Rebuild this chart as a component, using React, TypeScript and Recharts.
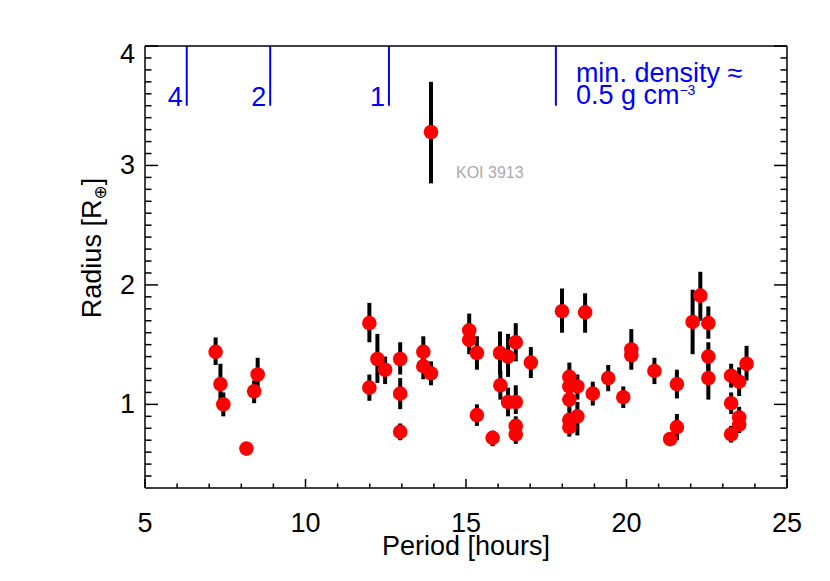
import { ErrorBar, ReferenceDot, ReferenceLine, Scatter, ScatterChart, XAxis, YAxis } from 'recharts'

// planet candidates: orbital period [hours] and radius [R_earth] with 1-sigma range
const period = [
  7.2, 7.35, 7.44, 8.16, 8.4, 8.51, 11.99, 11.99, 12.24, 12.48, 12.95, 12.95, 12.95, 13.67, 13.67, 13.91,
  13.91, 15.1, 15.1, 15.34, 15.34, 15.83, 16.06, 16.07, 16.31, 16.31, 16.55, 16.55, 16.55, 16.55, 17.02,
  17.99, 18.71, 18.22, 18.22, 18.47, 18.22, 18.47, 18.22, 18.22, 18.95, 19.43, 19.9, 20.15, 20.15, 20.87,
  21.36, 21.57, 21.57, 22.06, 22.3, 22.55, 22.55, 22.55, 23.26, 23.26, 23.26, 23.51, 23.51, 23.51, 23.74,
]
const radius = [
  1.44, 1.17, 1.0, 0.63, 1.11, 1.25, 1.68, 1.14, 1.38, 1.29, 1.38, 1.09, 0.77, 1.44, 1.32, 1.26,
  3.28, 1.62, 1.54, 1.43, 0.91, 0.72, 1.43, 1.16, 1.4, 1.02, 1.52, 1.02, 0.82, 0.75, 1.35,
  1.78, 1.77, 1.23, 1.15, 1.15, 1.04, 0.9, 0.87, 0.81, 1.09, 1.22, 1.06, 1.46, 1.41, 1.28,
  0.71, 1.17, 0.81, 1.69, 1.91, 1.68, 1.4, 1.22, 1.24, 1.01, 0.75, 1.19, 0.89, 0.83, 1.34,
]
const radiusLo = [
  1.33, 1.0, 0.9, 0.62, 1.01, 1.12, 1.52, 1.03, 1.18, 1.17, 1.25, 0.96, 0.7, 1.35, 1.21, 1.16,
  2.85, 1.5, 1.42, 1.29, 0.82, 0.65, 1.25, 1.04, 1.23, 0.9, 1.36, 0.92, 0.74, 0.67, 1.22,
  1.6, 1.6, 1.12, 1.05, 1.04, 0.95, 0.74, 0.78, 0.73, 0.99, 1.11, 0.97, 1.34, 1.29, 1.17,
  0.65, 1.05, 0.7, 1.42, 1.7, 1.55, 1.28, 1.04, 1.14, 0.92, 0.68, 1.07, 0.8, 0.76, 1.2,
]
const radiusHi = [
  1.56, 1.34, 1.1, 0.64, 1.2, 1.39, 1.85, 1.25, 1.59, 1.4, 1.52, 1.22, 0.84, 1.57, 1.42, 1.36,
  3.7, 1.76, 1.65, 1.57, 1.0, 0.78, 1.61, 1.28, 1.59, 1.14, 1.68, 1.16, 0.9, 0.82, 1.48,
  1.97, 1.93, 1.35, 1.25, 1.25, 1.13, 1.02, 0.96, 0.89, 1.19, 1.33, 1.15, 1.63, 1.52, 1.39,
  0.76, 1.29, 0.92, 1.96, 2.11, 1.82, 1.52, 1.35, 1.34, 1.1, 0.82, 1.31, 0.98, 0.9, 1.49,
]

// minimum-period lines for a given density [g cm^-3]
const densityPeriods = [6.3, 8.9, 12.6, 17.8]
const densityLabels = ['4', '2', '1', '']
const densityRange = [3.5, 4]

const koiPeriod = 13.91
const koiRadius = 3.28
const koiName = 'KOI 3913'

const xTicks = [5, 6, 7, 8, 9, 10, 11, 12, 13, 14, 15, 16, 17, 18, 19, 20, 21, 22, 23, 24, 25]
const yTicks = [
  0.4, 0.5, 0.6, 0.7, 0.8, 0.9, 1, 1.1, 1.2, 1.3, 1.4, 1.5, 1.6, 1.7, 1.8, 1.9, 2, 2.1, 2.2, 2.3, 2.4,
  2.5, 2.6, 2.7, 2.8, 2.9, 3, 3.1, 3.2, 3.3, 3.4, 3.5, 3.6, 3.7, 3.8, 3.9, 4,
]

const FONT = '"Liberation Sans", Arial, Helvetica, sans-serif'
const FS = 27
const BLUE = '#0000ff'

const data = period.map((p, i) => ({
  period: p,
  radius: radius[i],
  err: [radius[i] - radiusLo[i], radiusHi[i] - radius[i]],
}))

const isMajorX = (v: number) => v % 5 === 0
const isMajorY = (v: number) => Math.abs(v - Math.round(v)) < 1e-6

const XTick = (props: any) => {
  const { x, y, payload, side } = props
  const v = payload.value
  const major = isMajorX(v)
  const len = major ? 9 : 4.5
  const dir = side === 'bottom' ? -1 : 1
  return (
    <g>
      <line x1={x} x2={x} y1={y} y2={y + dir * len} stroke="#000" strokeWidth={1.5} />
      {major && side === 'bottom' && (
        <text x={x} y={y + 44} textAnchor="middle" fontSize={FS} fontFamily={FONT} fill="#000">
          {v}
        </text>
      )}
    </g>
  )
}

const YTick = (props: any) => {
  const { x, y, payload, side } = props
  const v = payload.value
  const major = isMajorY(v)
  const len = major ? 13 : 6.5
  const dir = side === 'left' ? 1 : -1
  // top label sits just below the frame edge, as in the original
  const shift = v >= 4 ? 8 : 0
  return (
    <g>
      <line x1={x} x2={x + dir * len} y1={y} y2={y} stroke="#000" strokeWidth={1.5} />
      {major && side === 'left' && (
        <text x={x - 10} y={y + 9 + shift} textAnchor="end" fontSize={FS} fontFamily={FONT} fill="#000">
          {Math.round(v)}
        </text>
      )}
    </g>
  )
}

const axisLine = { stroke: '#000', strokeWidth: 1.5 }

export default function App() {
  return (
    <div style={{ position: 'absolute', left: 0, top: 0, background: '#fff' }}>
      <ScatterChart width={830} height={581} margin={{ top: 36, right: 33, bottom: 63, left: 85 }}>
        <XAxis
          dataKey="period"
          type="number"
          domain={[5, 25]}
          ticks={xTicks}
          interval={0}
          allowDataOverflow
          height={30}
          tickSize={0}
          tickMargin={0}
          axisLine={axisLine}
          tickLine={false}
          tick={(p: any) => <XTick {...p} side="bottom" />}
          label={{
            content: ({ viewBox }: any) => (
              <text
                x={viewBox.x + viewBox.width / 2}
                y={viewBox.y + 67}
                textAnchor="middle"
                fontSize={FS}
                fontFamily={FONT}
                fill="#000"
              >
                Period [hours]
              </text>
            ),
          }}
        />
        <XAxis
          xAxisId="top"
          orientation="top"
          type="number"
          domain={[5, 25]}
          ticks={xTicks}
          interval={0}
          allowDataOverflow
          height={10}
          tickSize={0}
          tickMargin={0}
          axisLine={axisLine}
          tickLine={false}
          tick={(p: any) => <XTick {...p} side="top" />}
        />
        <YAxis
          dataKey="radius"
          type="number"
          domain={[0.3, 4]}
          ticks={yTicks}
          interval={0}
          allowDataOverflow
          width={60}
          tickSize={0}
          tickMargin={0}
          axisLine={axisLine}
          tickLine={false}
          tick={(p: any) => <YTick {...p} side="left" />}
          label={{
            content: ({ viewBox }: any) => {
              const cx = viewBox.x + 16
              const cy = 248
              return (
                <text
                  x={cx}
                  y={cy}
                  transform={`rotate(-90 ${cx} ${cy})`}
                  textAnchor="middle"
                  fontSize={FS}
                  fontFamily={FONT}
                  fill="#000"
                >
                  Radius [R
                  <tspan fontSize={17} dy={5} fontFamily="DejaVu Sans">
                    ⊕
                  </tspan>
                  <tspan dy={-5}>]</tspan>
                </text>
              )
            },
          }}
        />
        <YAxis
          yAxisId="right"
          orientation="right"
          type="number"
          domain={[0.3, 4]}
          ticks={yTicks}
          interval={0}
          allowDataOverflow
          width={10}
          tickSize={0}
          tickMargin={0}
          axisLine={axisLine}
          tickLine={false}
          tick={(p: any) => <YTick {...p} side="right" />}
        />

        {densityPeriods.map((p, i) => (
          <ReferenceLine
            key={p}
            segment={[
              { x: p, y: densityRange[0] },
              { x: p, y: densityRange[1] },
            ]}
            stroke={BLUE}
            strokeWidth={2}
            label={({ viewBox }: any) =>
              densityLabels[i] ? (
                <text
                  x={viewBox.x - 4}
                  y={viewBox.y + viewBox.height}
                  textAnchor="end"
                  fontSize={FS}
                  fontFamily={FONT}
                  fill={BLUE}
                >
                  {densityLabels[i]}
                </text>
              ) : (
                <text x={viewBox.x + 20} y={viewBox.y + 36} fontSize={FS} fontFamily={FONT} fill={BLUE}>
                  <tspan x={viewBox.x + 20}>min. density ≈</tspan>
                  <tspan x={viewBox.x + 20} dy={22}>
                    0.5 g cm
                  </tspan>
                  <tspan fontSize={14} dy={-9}>
                    −3
                  </tspan>
                </text>
              )
            }
          />
        ))}

        <Scatter data={data} isAnimationActive={false} shape={() => <g />}>
          <ErrorBar dataKey="err" direction="y" width={0} stroke="#000" strokeWidth={4} isAnimationActive={false} />
        </Scatter>
        <Scatter
          data={data}
          isAnimationActive={false}
          shape={(p: any) => <circle cx={p.cx} cy={p.cy} r={7.3} fill="#ff0000" />}
        />

        <ReferenceDot
          x={koiPeriod}
          y={koiRadius}
          r={0}
          fill="none"
          stroke="none"
          label={({ viewBox }: any) => (
            <text x={viewBox.x + 25} y={viewBox.y + 46} fontSize={16} fontFamily={FONT} fill="#aaaaaa">
              {koiName}
            </text>
          )}
        />
      </ScatterChart>
    </div>
  )
}
